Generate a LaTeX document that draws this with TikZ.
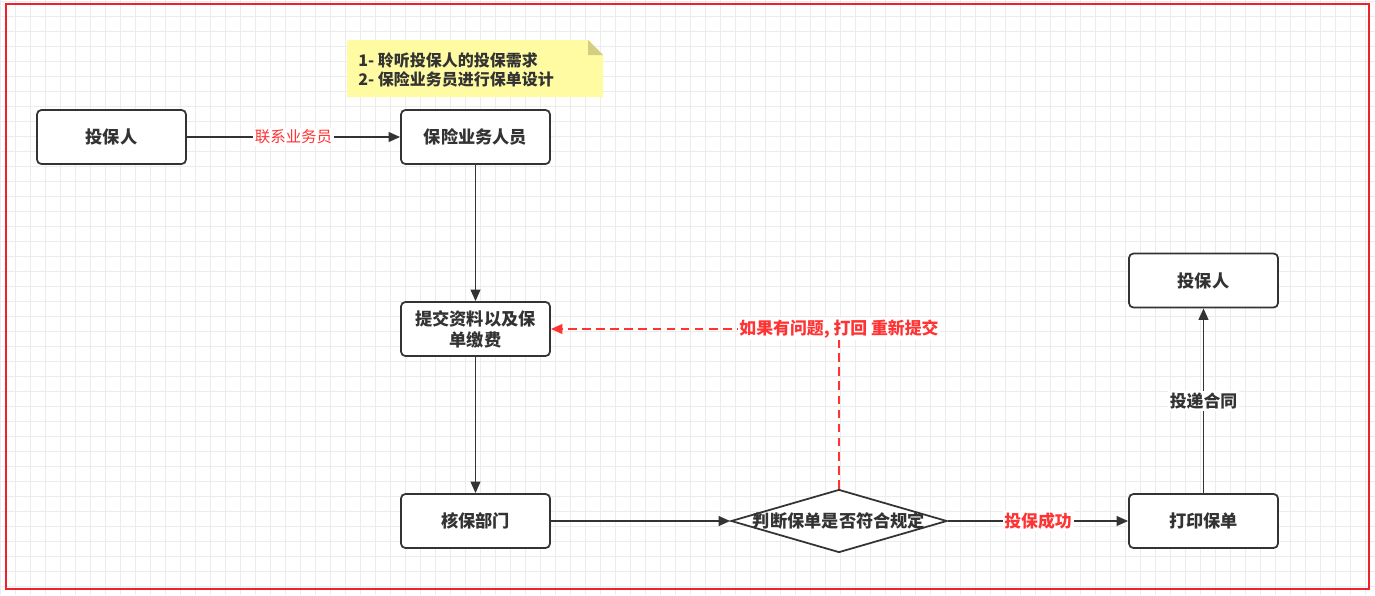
\documentclass[tikz,border=0pt]{standalone}
\usepackage{fontspec}
\setmainfont{Noto Sans CJK SC}
\usepackage{xcolor}
\usepackage{tikz}
\usetikzlibrary{arrows.meta, positioning, shapes.geometric}
\definecolor{boxline}{HTML}{333333}
\definecolor{alertred}{HTML}{FF3333}
\definecolor{framered}{HTML}{EE2228}
\definecolor{notefill}{HTML}{FFFBA3}
\definecolor{notefold}{HTML}{D4CE80}
\definecolor{gridline}{HTML}{ECECEC}

\tikzset{
  procbox/.style={draw=boxline, line width=1pt, rounded corners=2.5pt, fill=white,
    minimum width=2.98cm, minimum height=1.08cm, inner sep=1pt, text=boxline,
    font=\fontsize{9.8pt}{12pt}\selectfont\bfseries, align=center},
  checkbox/.style={draw=boxline, line width=1pt, shape=diamond, aspect=3.4, fill=white,
    minimum width=4.32cm, minimum height=1.26cm, inner sep=-1pt, text=boxline,
    font=\fontsize{9.8pt}{11pt}\selectfont\bfseries},
  flow/.style={draw=boxline, line width=1pt, -{Triangle[length=6.5pt, width=5.5pt]}},
  redflow/.style={draw=alertred, line width=1pt, dash pattern=on 5pt off 3pt,
    -{Triangle[length=6.5pt, width=5.5pt]}},
  flowlabel/.style={fill=white, inner sep=1pt, font=\fontsize{9.6pt}{11pt}\selectfont\bfseries}
}

\begin{document}
\begin{tikzpicture}[x=0.02cm, y=-0.02cm]
  \useasboundingbox (0,0) rectangle (1375,595);
  % background grid
  \fill[white] (0,0) rectangle (1375,595);
  \foreach \gx in {0,15,...,1375}
    \draw[gridline, line width=0.5pt] (\gx,0) -- (\gx,595);
  \foreach \gy in {1,16,...,595}
    \draw[gridline, line width=0.5pt] (0,\gy) -- (1375,\gy);
  % red frame
  \draw[framered, line width=1.1pt] (6,4) rectangle (1369,589);

  % note
  \fill[notefill] (347,40) -- (588,40) -- (603,55) -- (603,97) -- (347,97) -- cycle;
  \fill[notefold] (588,40) -- (603,55) -- (588,55) -- cycle;
  \node[anchor=west, align=left, text=boxline, inner sep=0pt,
        font=\fontsize{9.1pt}{10.8pt}\selectfont\bfseries] (needs) at (358,70)
    {1- 聆听投保人的投保需求\\2- 保险业务员进行保单设计};

  % boxes
  \node[procbox] (client) at (111.5,137) {投保人};
  \node[procbox] (agent) at (475.5,137) {保险业务人员};
  \node[procbox] (submit) at (475.5,329) {提交资料以及保\\单缴费};
  \node[procbox] (audit) at (475.5,521) {核保部门};
  \node[checkbox] (check) at (839,521) {判断保单是否符合规定};
  \node[procbox] (print) at (1203.5,521) {打印保单};
  \node[procbox] (receiver) at (1203.5,280.5) {投保人};

  % connectors
  \draw[flow] (client) -- node[flowlabel, text=alertred, font=\fontsize{8.8pt}{10pt}\selectfont] {联系业务员} (agent);
  \draw[flow] (agent) -- (submit);
  \draw[flow] (submit) -- (audit);
  \draw[flow] (audit) -- (check);
  \draw[flow] (check) -- node[flowlabel, text=alertred] {投保成功} (print);
  \draw[flow] (print) -- node[flowlabel, text=boxline] {投递合同} (receiver);
  \draw[redflow] (check.north) |- node[flowlabel, text=alertred] {如果有问题, 打回 重新提交} (submit.east);
\end{tikzpicture}
\end{document}
